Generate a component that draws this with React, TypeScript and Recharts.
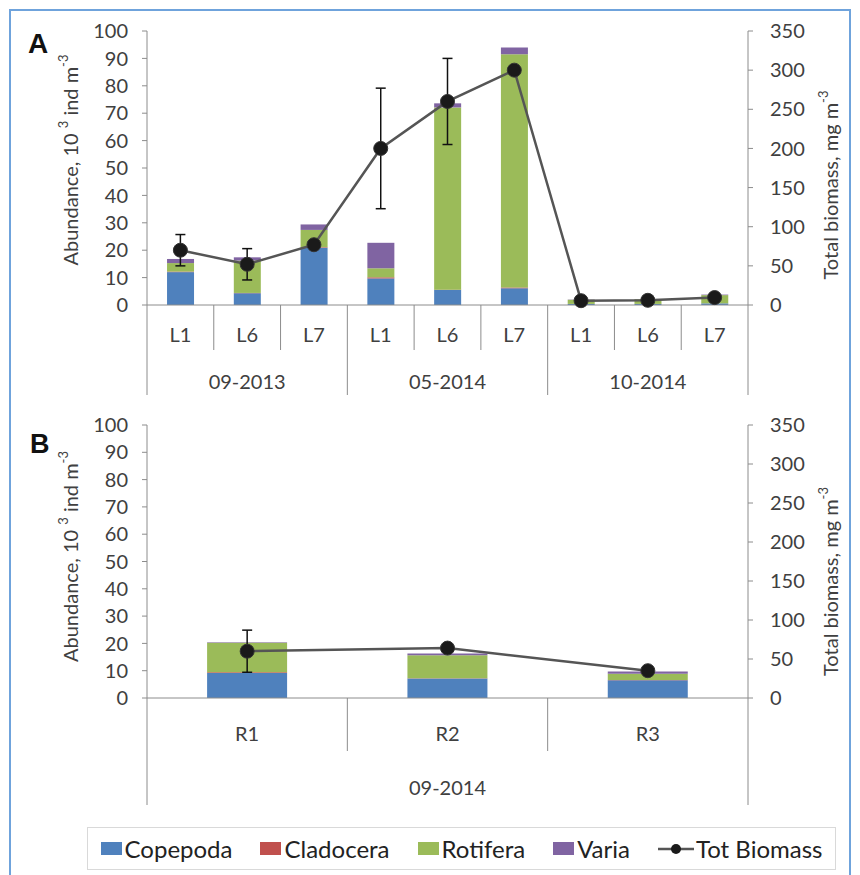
import React from 'react';
import { ComposedChart, Bar, Line, XAxis, YAxis, ErrorBar, Label } from 'recharts';

const FONT = 'Lato, "Open Sans", sans-serif';
const TEXT = '#404040';
const AXIS = '#8c8c8c';

// Series
const seriesNames = ['Copepoda', 'Cladocera', 'Rotifera', 'Varia'];
const seriesColors = ['#4F81BD', '#C0504D', '#9BBB59', '#8064A2'];
const lineName = 'Tot Biomass';

// Panel A
const catsA = ['L1', 'L6', 'L7', 'L1', 'L6', 'L7', 'L1', 'L6', 'L7'];
const groupsA = ['09-2013', '09-2013', '09-2013', '05-2014', '05-2014', '05-2014', '10-2014', '10-2014', '10-2014'];
const copepodaA = [12, 4.3, 20.9, 9.7, 5.5, 6.1, 0.4, 0.4, 0.6];
const cladoceraA = [0.2, 0.1, 0.2, 0.4, 0.1, 0.3, 0, 0, 0];
const rotiferaA = [3.1, 11.8, 6.3, 3.3, 66.5, 85.1, 1.5, 1.7, 3.0];
const variaA = [1.5, 1.2, 2.0, 9.3, 1.5, 2.5, 0.1, 0.1, 0.2];
const biomassA = [70, 52, 77, 200, 260, 300, 5.5, 6, 9.5];
const biomassErrA = [20, 20, 0, 77, 55, 0, 0, 0, 0];

// Panel B
const catsB = ['R1', 'R2', 'R3'];
const groupsB = ['09-2014', '09-2014', '09-2014'];
const copepodaB = [9.2, 7.1, 6.5];
const cladoceraB = [0.2, 0.1, 0.1];
const rotiferaB = [10.8, 8.5, 2.3];
const variaB = [0.2, 0.6, 0.8];
const biomassB = [60, 64, 35];
const biomassErrB = [27, 0, 0];

// Axis ticks
const leftTicks = [0, 10, 20, 30, 40, 50, 60, 70, 80, 90, 100];
const rightTicks = [0, 50, 100, 150, 200, 250, 300, 350];

function buildRows(cats: string[], groups: string[], cop: number[], cla: number[], rot: number[], va: number[], bio: number[], err: number[]) {
  return cats.map((c, i) => ({
    id: `${groups[i]} ${c}`,
    Copepoda: cop[i],
    Cladocera: cla[i],
    Rotifera: rot[i],
    Varia: va[i],
    biomass: bio[i],
    biomassErr: err[i],
  }));
}

const rowsA = buildRows(catsA, groupsA, copepodaA, cladoceraA, rotiferaA, variaA, biomassA, biomassErrA);
const rowsB = buildRows(catsB, groupsB, copepodaB, cladoceraB, rotiferaB, variaB, biomassB, biomassErrB);

type TickCfg = { labelDy: number; shortLen: number; longLen: number; groupDy: number };

function makeTick(cats: string[], groups: string[], cfg: TickCfg) {
  return (props: any) => {
    const { x, y, payload, index, width } = props;
    const n = cats.length;
    const i = index;
    const half = (payload && payload.offset) || (width ? width / n / 2 : 33);
    const isStart = i === 0 || groups[i] !== groups[i - 1];
    let groupSize = 0;
    if (isStart) {
      let j = i;
      while (j < n && groups[j] === groups[i]) j++;
      groupSize = j - i;
    }
    const left = x - half;
    return (
      <g>
        <text x={x} y={y + cfg.labelDy} textAnchor="middle" dominantBaseline="central" fill={TEXT} fontSize={20} fontFamily={FONT}>
          {cats[i]}
        </text>
        <line x1={left} y1={y} x2={left} y2={y + (isStart ? cfg.longLen : cfg.shortLen)} stroke={AXIS} strokeWidth={1} />
        {i === n - 1 && <line x1={x + half} y1={y} x2={x + half} y2={y + cfg.longLen} stroke={AXIS} strokeWidth={1} />}
        {isStart && (
          <text x={left + groupSize * half} y={y + cfg.groupDy} textAnchor="middle" dominantBaseline="central" fill={TEXT} fontSize={20} fontFamily={FONT}>
            {groups[i]}
          </text>
        )}
      </g>
    );
  };
}

const leftTitle = (dx: number, dy: number) => (props: any) => {
  const vb = props.viewBox || {};
  const cx = vb.x + dx;
  const cy = vb.y + vb.height / 2 + dy;
  return (
    <text x={cx} y={cy} transform={`rotate(-90, ${cx}, ${cy})`} textAnchor="middle" dominantBaseline="central" fill={TEXT} fontSize={20} fontFamily={FONT}>
      Abundance, 10 <tspan dy={-7} fontSize={13}>3</tspan><tspan dy={7}> ind m</tspan><tspan dy={-7} fontSize={13}>-3</tspan>
    </text>
  );
};

const rightTitle = (dx: number, dy: number) => (props: any) => {
  const vb = props.viewBox || {};
  const cx = vb.x + dx;
  const cy = vb.y + vb.height / 2 + dy;
  return (
    <text x={cx} y={cy} transform={`rotate(-90, ${cx}, ${cy})`} textAnchor="middle" dominantBaseline="central" fill={TEXT} fontSize={20} fontFamily={FONT}>
      Total biomass, mg m<tspan dy={-7} fontSize={13}>-3</tspan>
    </text>
  );
};

function Panel({ rows, cats, groups, height, margin, xHeight, tickCfg, leftDy, rightDy }: any) {
  return (
    <ComposedChart width={860} height={height} data={rows} margin={margin} barCategoryGap="30%">
      <XAxis
        dataKey="id"
        xAxisId={0}
        height={xHeight}
        interval={0}
        tickLine={false}
        tickSize={0}
        tickMargin={0}
        axisLine={{ stroke: AXIS }}
        tick={makeTick(cats, groups, tickCfg)}
      />
      <YAxis
        yAxisId="left"
        width={50}
        domain={[0, 100]}
        ticks={leftTicks}
        interval={0}
        tickSize={5}
        tickMargin={14}
        axisLine={{ stroke: AXIS }}
        tickLine={{ stroke: AXIS }}
        tick={{ fill: TEXT, fontSize: 20, fontFamily: FONT }}
      >
        <Label content={leftTitle(-27, leftDy)} />
      </YAxis>
      <YAxis
        yAxisId="right"
        orientation="right"
        width={50}
        domain={[0, 350]}
        ticks={rightTicks}
        interval={0}
        tickSize={5}
        tickMargin={17}
        axisLine={{ stroke: AXIS }}
        tickLine={{ stroke: AXIS }}
        tick={{ fill: TEXT, fontSize: 20, fontFamily: FONT }}
      >
        <Label content={rightTitle(82, rightDy)} />
      </YAxis>
      {seriesNames.map((s, k) => (
        <Bar key={s} dataKey={s} stackId="a" yAxisId="left" fill={seriesColors[k]} isAnimationActive={false} />
      ))}
      <Line
        dataKey="biomass"
        yAxisId="right"
        stroke="#555555"
        strokeWidth={2.5}
        dot={{ r: 7, fill: '#1a1a1a', stroke: '#333', strokeWidth: 1 }}
        activeDot={false}
        isAnimationActive={false}
      >
        <ErrorBar dataKey="biomassErr" width={5} stroke="#111" strokeWidth={1.5} direction="y" />
      </Line>
    </ComposedChart>
  );
}

function Legend() {
  const items = seriesNames.map((s, k) => (
    <div key={s} style={{ display: 'flex', alignItems: 'center', marginRight: 28 }}>
      <div style={{ width: 21, height: 13, background: seriesColors[k], marginRight: 3 }} />
      <span>{s}</span>
    </div>
  ));
  return (
    <div
      style={{
        position: 'absolute',
        left: 87,
        top: 827,
        width: 749,
        height: 43,
        border: '1px solid #d9d9d9',
        boxSizing: 'border-box',
        display: 'flex',
        alignItems: 'center',
        justifyContent: 'center',
        fontFamily: FONT,
        fontSize: 24,
        color: '#222',
      }}
    >
      {items}
      <div style={{ display: 'flex', alignItems: 'center' }}>
        <svg width={36} height={14} style={{ marginRight: 2 }}>
          <line x1={0} y1={7} x2={36} y2={7} stroke="#555" strokeWidth={2.5} />
          <circle cx={18} cy={7} r={5} fill="#1a1a1a" />
        </svg>
        <span>{lineName}</span>
      </div>
    </div>
  );
}

export default function App() {
  return (
    <div style={{ position: 'absolute', left: 0, top: 0, width: 860, height: 875, background: '#fff', overflow: 'hidden' }}>
      <div style={{ position: 'absolute', left: 9, top: 9, width: 842, height: 880, border: '2px solid #6fa3dc', boxSizing: 'border-box' }} />
      <div style={{ position: 'absolute', left: 0, top: 0 }}>
        <Panel
          rows={rowsA}
          cats={catsA}
          groups={groupsA}
          height={400}
          margin={{ top: 31, right: 62, bottom: 5, left: 97 }}
          xHeight={90}
          tickCfg={{ labelDy: 29, shortLen: 45, longLen: 90, groupDy: 76 }}
          leftDy={-8}
          rightDy={17}
        />
      </div>
      <div style={{ position: 'absolute', left: 0, top: 400 }}>
        <Panel
          rows={rowsB}
          cats={catsB}
          groups={groupsB}
          height={420}
          margin={{ top: 25, right: 62, bottom: 10, left: 97 }}
          xHeight={112}
          tickCfg={{ labelDy: 35, shortLen: 53, longLen: 107, groupDy: 89 }}
          leftDy={-5}
          rightDy={20}
        />
      </div>
      <svg width={860} height={875} style={{ position: 'absolute', left: 0, top: 0, pointerEvents: 'none' }}>
        <text x={28} y={53} fontFamily='"Liberation Sans", Arial, sans-serif' fontWeight="bold" fontSize={28} fill="#111">A</text>
        <text x={30} y={453} fontFamily='"Liberation Sans", Arial, sans-serif' fontWeight="bold" fontSize={27} fill="#111">B</text>
      </svg>
      <Legend />
    </div>
  );
}
